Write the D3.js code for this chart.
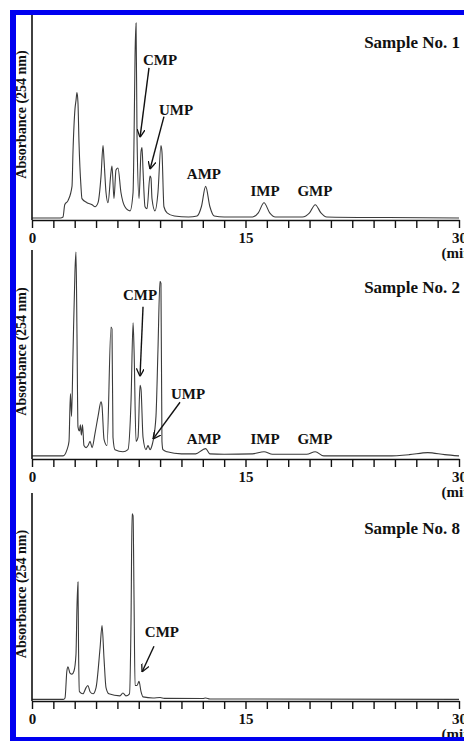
<!DOCTYPE html>
<html>
<head>
  <title>Nucleotide chromatograms</title>
  <script src="https://d3js.org/d3.v7.min.js"></script>
  <style>
    body { margin: 0; background: #fff; }
    svg text { font-family: "Liberation Serif", "Times New Roman", serif; font-weight: bold; fill: #111; }
  </style>
</head>
<body>
<div id="chart"></div>
<script>
  // retention time (min) vs absorbance (% of axis height)
  const sample1 = [
    [0,0.5],[2.0,0.5],[2.18,1],[2.3,7],[2.53,9],[2.81,16],[2.88,33],[3.02,54],[3.09,58],[3.16,62],
    [3.23,57],[3.30,38],[3.44,16],[3.51,10],[3.86,8],[4.22,7],[4.43,6],[4.64,8],[4.85,21],[4.99,36],
    [5.06,29],[5.20,13],[5.34,8],[5.55,23],[5.62,26],[5.76,10],[5.90,24],[6.04,25],[6.25,13],[6.53,6],
    [6.89,4],[7.10,13],[7.17,40],[7.24,80],[7.31,96],[7.38,40],[7.52,10],[7.66,33],[7.73,35],[7.80,24],
    [7.94,6],[8.08,5],[8.29,21],[8.36,20],[8.43,10],[8.64,4],[8.85,13],[9.06,36],[9.13,33],[9.27,6],
    [9.49,3],[10,1.5],[11,1],[11.6,1.5],[11.9,6],[12.2,16],[12.5,6],[12.8,1.5],[13.5,1],[15.5,1],
    [15.9,3],[16.3,8],[16.7,3],[17.1,1],[19.0,1],[19.5,3],[19.9,7],[20.3,3],[20.7,1],[25,0.7],[30,0.5]
  ];
  const sample2 = [
    [0,1],[2.18,1],[2.46,4],[2.60,8],[2.70,31],[2.78,20],[2.88,50],[3.02,90],[3.09,99],[3.16,60],
    [3.23,15],[3.33,13],[3.40,16],[3.47,11],[3.55,16],[3.65,6],[3.80,5],[3.94,6],[4.08,8],[4.22,5],
    [4.43,12],[4.64,20],[4.85,27],[4.92,25],[5.06,9],[5.27,6],[5.55,63],[5.62,62],[5.69,10],[5.83,4],
    [6.39,3],[6.74,4],[6.96,28],[7.10,65],[7.17,52],[7.31,8],[7.45,10],[7.59,35],[7.66,33],[7.80,10],
    [8.01,4],[8.15,6],[8.29,4],[8.43,6],[8.50,8],[8.71,20],[8.85,52],[8.99,85],[9.06,84],[9.13,8],
    [9.20,4],[9.49,3],[10.5,2],[11.5,2],[12.0,4],[12.2,4.5],[12.5,2],[13.5,1.8],[15.5,2],[16.3,3],
    [16.9,1.8],[19.3,1.8],[19.9,3],[20.5,1],[25,1],[26.5,1.6],[27.8,2.6],[29,1.6],[30,1]
  ];
  const sample8 = [
    [0,0.3],[2.2,0.3],[2.32,1],[2.45,14],[2.53,16],[2.67,13],[2.81,12.5],[2.95,14],[3.09,22],[3.16,45],
    [3.23,57],[3.27,25],[3.33,4],[3.58,3],[3.80,6],[3.93,7],[4.08,4],[4.29,3],[4.50,6],[4.78,25],
    [4.92,36],[5.06,20],[5.20,6],[5.40,3],[6.18,2],[6.39,3.4],[6.60,2],[6.85,3],[6.96,40],[7.03,90],
    [7.10,89],[7.17,48],[7.24,7],[7.38,7],[7.52,9],[7.66,4],[7.80,1.5],[8.5,1],[9.0,1.2],[9.3,0.8],
    [12,0.7],[12.2,1.0],[12.5,0.5],[30,0.3]
  ];

  const sampleNames = ["Sample No. 1", "Sample No. 2", "Sample No. 8"];
  const sampleSeries = [sample1, sample2, sample8];

  const xTicks = d3.range(0, 30.01, 1.5);
  const xTickLabels = [0, 15, 30];

  // peak labels: [name, time, absorbance] per panel
  const peakLabels = [
    [["CMP", 9.0, 75.6], ["UMP", 10.12, 51.2], ["AMP", 12.08, 19.5], ["IMP", 16.37, 11.2], ["GMP", 19.88, 11.2]],
    [["CMP", 7.59, 76], ["UMP", 10.96, 28.2], ["AMP", 12.08, 6.7], ["IMP", 16.37, 6.7], ["GMP", 19.88, 6.7]],
    [["CMP", 9.13, 30.3]]
  ];
  // arrows: [t0, v0, t1, v1] per panel
  const peakArrows = [
    [[8.22, 74.1, 7.59, 40], [9.27, 50.2, 8.29, 24.4]],
    [[7.80, 72.7, 7.59, 39.2], [10.40, 26.8, 8.50, 9.1]],
    [[8.57, 26, 7.73, 13.5]]
  ];

  const width = 464, height = 741;
  const panels = [
    { top: 15, bottom: 220, titleY: 48 },
    { top: 250, bottom: 459, titleY: 293 },
    { top: 493, bottom: 701, titleY: 534 }
  ];

  const svg = d3.select("#chart").append("svg")
    .attr("width", width).attr("height", height);

  svg.append("defs").append("marker")
    .attr("id", "arr").attr("viewBox", "0 0 10 10")
    .attr("refX", 10).attr("refY", 5)
    .attr("markerWidth", 8).attr("markerHeight", 8)
    .attr("markerUnits", "userSpaceOnUse")
    .attr("orient", "auto")
    .append("path").attr("d", "M0,0 L10,5 L0,10")
    .attr("fill", "none").attr("stroke", "#111").attr("stroke-width", 1.6);

  const xScale = d3.scaleLinear().domain([0, 30]).range([32, 459]);

  panels.forEach((p, i) => {
    const yScale = d3.scaleLinear().domain([0, 100]).range([p.bottom - 1, p.top]);

    // chromatogram trace
    const line = d3.line()
      .x(d => xScale(d[0]))
      .y(d => yScale(d[1]))
      .curve(d3.curveMonotoneX);
    svg.append("path")
      .datum(sampleSeries[i])
      .attr("d", line)
      .attr("fill", "none")
      .attr("stroke", "#3a3a3a")
      .attr("stroke-width", 1.1);

    // x axis
    const xAxis = d3.axisBottom(xScale)
      .tickValues(xTicks)
      .tickSize(8)
      .tickSizeOuter(0)
      .tickFormat(d => xTickLabels.includes(d) ? d : "");
    const xg = svg.append("g")
      .attr("transform", `translate(0,${p.bottom})`)
      .call(xAxis);
    xg.select(".domain").attr("stroke", "#111").attr("stroke-width", 1.6);
    xg.selectAll(".tick line").attr("stroke", "#111").attr("stroke-width", 1.4);
    xg.selectAll(".tick text").attr("font-size", 15).attr("dy", "0.62em").attr("y", 14).attr("fill", "#111");

    svg.append("text")
      .attr("x", 459).attr("y", p.bottom + 38)
      .attr("text-anchor", "middle").attr("font-size", 15)
      .text("(min)");

    // y axis (line only)
    svg.append("line")
      .attr("x1", 32).attr("x2", 32)
      .attr("y1", p.bottom).attr("y2", p.top)
      .attr("stroke", "#111").attr("stroke-width", 1.6);

    svg.append("text")
      .attr("transform", `translate(26,${(p.top + p.bottom) / 2 - 3}) rotate(-90)`)
      .attr("text-anchor", "middle").attr("font-size", 14)
      .text("Absorbance (254 nm)");

    svg.append("text")
      .attr("x", 460).attr("y", p.titleY)
      .attr("text-anchor", "end").attr("font-size", 17)
      .text(sampleNames[i]);

    peakLabels[i].forEach(l => {
      svg.append("text")
        .attr("x", xScale(l[1])).attr("y", yScale(l[2]))
        .attr("text-anchor", "middle").attr("font-size", 15)
        .text(l[0]);
    });

    peakArrows[i].forEach(a => {
      svg.append("line")
        .attr("x1", xScale(a[0])).attr("y1", yScale(a[1]))
        .attr("x2", xScale(a[2])).attr("y2", yScale(a[3]))
        .attr("stroke", "#111").attr("stroke-width", 1.4)
        .attr("marker-end", "url(#arr)");
    });
  });

  // blue frame (left, top, bottom; right side is cropped)
  svg.append("rect").attr("x", 10).attr("y", 10).attr("width", 6).attr("height", 731).attr("fill", "#0000f0");
  svg.append("rect").attr("x", 10).attr("y", 10).attr("width", 454).attr("height", 5).attr("fill", "#0000f0");
  svg.append("rect").attr("x", 10).attr("y", 737).attr("width", 454).attr("height", 4).attr("fill", "#0000f0");
</script>
</body>
</html>
